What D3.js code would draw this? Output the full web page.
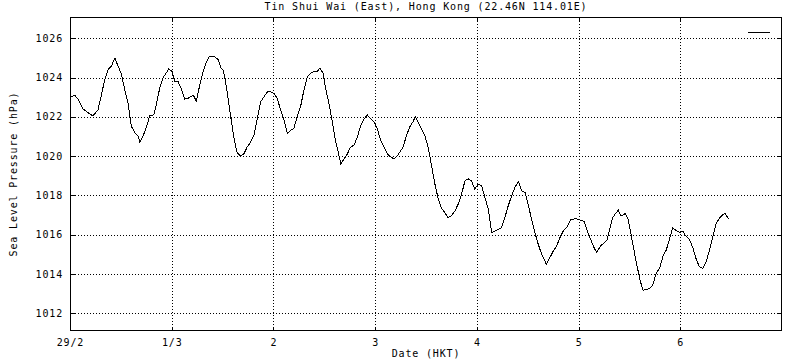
<!DOCTYPE html>
<html><head><meta charset="utf-8">
<script src="https://cdn.jsdelivr.net/npm/d3@7"></script>
<style>
html,body{margin:0;padding:0;background:#fff;}
svg text{font-family:"DejaVu Sans Mono",monospace;font-size:10px;letter-spacing:0.85px;fill:#000;}
</style></head>
<body><svg id="c" width="800" height="360"></svg>
<script>
const titleText = "Tin Shui Wai (East), Hong Kong (22.46N 114.01E)";
const xLabel = "Date (HKT)";
const yLabel = "Sea Level Pressure (hPa)";
const dayTicks = [0, 24, 48, 72, 96, 120, 144];
const dayLabels = ["29/2", "1/3", "2", "3", "4", "5", "6"];
const yTicks = [1012, 1014, 1016, 1018, 1020, 1022, 1024, 1026];
// hours since 29/2 00:00 HKT
const hours = [0.2,1.1,1.9,3.1,4.3,5.4,6.6,7.4,8.2,9.0,9.8,10.6,11.3,12.1,12.9,13.7,14.5,15.3,16.1,16.5,17.2,18.0,18.8,19.8,20.4,21.2,22.0,22.8,23.3,24.1,24.7,25.5,26.3,27.1,27.9,29.1,29.8,30.6,31.4,32.2,33.0,34.2,35.0,35.6,36.2,37.0,37.8,38.6,39.4,40.2,41.0,41.8,42.6,43.4,44.2,45.0,45.8,46.6,47.3,48.1,48.9,49.7,50.5,51.3,52.0,52.8,53.6,54.4,55.2,56.0,56.8,57.6,58.3,59.0,59.7,60.3,61.1,61.9,62.7,63.3,63.9,64.7,65.4,66.2,67.0,67.8,68.6,69.4,70.2,70.9,71.7,72.5,73.3,74.1,74.9,75.7,76.5,77.2,77.8,78.6,79.4,80.2,80.9,81.5,82.1,82.9,83.7,84.5,85.3,86.1,86.9,87.6,88.4,89.2,90.0,90.8,91.6,92.4,93.2,94.0,94.7,95.5,96.3,97.1,97.9,98.7,99.5,100.3,101.1,101.8,102.6,103.4,104.2,105.0,105.8,106.6,107.4,108.1,108.9,109.7,110.5,111.3,112.1,112.4,113.2,114.0,114.8,115.6,116.4,117.4,118.1,118.9,119.7,120.5,121.3,122.1,122.9,123.7,124.3,125.1,125.9,126.7,127.5,128.0,128.8,129.4,130.0,131.0,131.6,132.4,133.2,134.0,134.6,135.2,135.9,136.7,137.5,138.3,139.1,139.9,140.7,141.4,142.2,143.0,143.8,144.6,145.4,146.2,147.0,147.8,148.5,149.3,150.1,150.9,151.7,152.5,153.3,154.1,154.6,155.4];
const pressure = [1023.0,1023.1,1022.9,1022.4,1022.2,1022.05,1022.35,1023.1,1023.9,1024.4,1024.6,1025.0,1024.6,1024.2,1023.4,1022.7,1021.5,1021.2,1021.0,1020.7,1021.0,1021.45,1022.05,1022.1,1022.65,1023.5,1024.0,1024.26,1024.45,1024.3,1023.8,1023.8,1023.4,1022.9,1022.95,1023.1,1022.8,1023.6,1024.3,1024.8,1025.1,1025.05,1024.9,1024.5,1024.35,1023.4,1022.2,1021.0,1020.2,1020.0,1020.1,1020.46,1020.7,1021.06,1021.9,1022.77,1023.03,1023.28,1023.28,1023.2,1022.94,1022.34,1021.83,1021.15,1021.3,1021.4,1022.0,1022.51,1023.37,1024.05,1024.22,1024.3,1024.3,1024.48,1024.22,1023.45,1022.68,1021.74,1020.72,1020.2,1019.6,1019.86,1020.1,1020.46,1020.55,1020.97,1021.57,1021.9,1022.09,1021.9,1021.74,1021.4,1020.8,1020.46,1020.1,1019.95,1019.86,1020.0,1020.2,1020.46,1021.06,1021.49,1021.74,1022.0,1021.74,1021.4,1021.06,1020.46,1019.52,1018.58,1017.81,1017.38,1017.13,1016.87,1016.96,1017.2,1017.56,1018.07,1018.75,1018.84,1018.75,1018.32,1018.58,1018.5,1017.9,1017.3,1016.1,1016.19,1016.27,1016.36,1016.87,1017.47,1017.98,1018.41,1018.7,1018.24,1018.15,1017.56,1016.79,1016.1,1015.5,1015.0,1014.65,1014.48,1014.82,1015.16,1015.42,1015.85,1016.2,1016.43,1016.77,1016.8,1016.8,1016.74,1016.68,1016.17,1015.74,1015.32,1015.1,1015.4,1015.57,1015.74,1016.43,1016.85,1017.1,1017.25,1016.94,1017.08,1016.85,1016.0,1015.06,1014.2,1013.61,1013.18,1013.21,1013.26,1013.44,1014.03,1014.29,1014.89,1015.23,1015.74,1016.34,1016.22,1016.12,1016.17,1015.91,1015.74,1015.32,1014.72,1014.38,1014.29,1014.63,1015.23,1015.91,1016.6,1016.85,1017.03,1017.08,1016.8];

const L = 70, R = 782, T = 17, B = 331;
const svg = d3.select("#c");
const x = d3.scaleLinear().domain([0, 168]).range([L, R]);
const y = d3.scaleLinear().domain([1011.1, 1027.08]).range([B, T]);
const data = hours.map((h, i) => [h, pressure[i]]);

// grid
const grid = svg.append("g").attr("stroke", "#000").attr("stroke-width", 1).attr("stroke-dasharray", "1,2").attr("shape-rendering", "crispEdges");
grid.selectAll(".gy").data(yTicks).join("line")
  .attr("x1", L + 5).attr("x2", R - 5)
  .attr("y1", d => Math.round(y(d)) + 0.5).attr("y2", d => Math.round(y(d)) + 0.5);
grid.selectAll(".gx").data(dayTicks.slice(1)).join("line")
  .attr("x1", d => Math.round(x(d)) + 0.5).attr("x2", d => Math.round(x(d)) + 0.5)
  .attr("y1", T + 4).attr("y2", B - 4);

// axes with inward ticks
const axL = svg.append("g").attr("transform", `translate(${L + 0.5},0)`)
  .call(d3.axisRight(y).tickValues(yTicks).tickSize(5).tickFormat(""));
const axR = svg.append("g").attr("transform", `translate(${R - 0.5},0)`)
  .call(d3.axisLeft(y).tickValues(yTicks).tickSize(5).tickFormat(""));
const axB = svg.append("g").attr("transform", `translate(0,${B - 0.5})`)
  .call(d3.axisTop(x).tickValues(dayTicks).tickSize(4).tickFormat(""));
const axT = svg.append("g").attr("transform", `translate(0,${T + 0.5})`)
  .call(d3.axisBottom(x).tickValues(dayTicks).tickSize(4).tickFormat(""));
[axL, axR, axB, axT].forEach(a => { a.select(".domain").remove(); a.selectAll("line").attr("stroke", "#000").attr("shape-rendering", "crispEdges"); });

// frame
svg.append("rect").attr("x", L + 0.5).attr("y", T + 0.5).attr("width", R - L - 1).attr("height", B - T - 1)
  .attr("fill", "none").attr("stroke", "#000").attr("shape-rendering", "crispEdges");

// tick labels
svg.append("g").selectAll("text").data(yTicks).join("text")
  .attr("x", 63).attr("y", d => y(d) + 3.5).attr("text-anchor", "end").text(d => d);
svg.append("g").selectAll("text").data(dayTicks).join("text")
  .attr("x", d => x(d) + 0.5).attr("y", 346).attr("text-anchor", "middle").text((d, i) => dayLabels[i]);

// titles
svg.append("text").attr("x", (L + R) / 2).attr("y", 10).attr("text-anchor", "middle").text(titleText);
svg.append("text").attr("x", (L + R) / 2).attr("y", 357).attr("text-anchor", "middle").text(xLabel);
svg.append("text").attr("transform", `translate(17,${(T + B) / 2}) rotate(-90)`).attr("text-anchor", "middle").text(yLabel);

// data line
svg.append("path").datum(data)
  .attr("fill", "none").attr("stroke", "#000").attr("stroke-width", 1).attr("shape-rendering", "crispEdges")
  .attr("d", d3.line().x(d => x(d[0])).y(d => y(d[1])));

// legend sample
svg.append("line").attr("x1", 748).attr("x2", 770).attr("y1", 32.5).attr("y2", 32.5).attr("stroke", "#000").attr("shape-rendering", "crispEdges");
</script></body></html>
